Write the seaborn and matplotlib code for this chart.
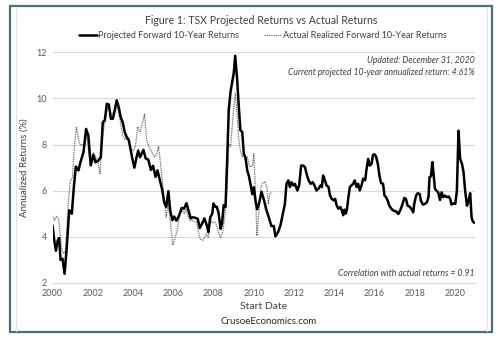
import matplotlib
matplotlib.use("Agg")
import matplotlib.pyplot as plt
from matplotlib.patches import Rectangle
from matplotlib.lines import Line2D
import seaborn as sns
import pandas as pd

# ---------------- data (decimal year, annualized return %) ----------------
proj_dates = [
    2000.00, 2000.08, 2000.17, 2000.26, 2000.33, 2000.40, 2000.50, 2000.60, 2000.71, 2000.83,
    2000.96, 2001.06, 2001.16, 2001.29, 2001.39, 2001.54, 2001.67, 2001.78, 2001.90, 2002.03,
    2002.14, 2002.27, 2002.40, 2002.50, 2002.60, 2002.70, 2002.80, 2002.90, 2003.00, 2003.09,
    2003.19, 2003.29, 2003.39, 2003.49, 2003.59, 2003.69, 2003.79, 2003.89, 2003.99, 2004.07,
    2004.19, 2004.26, 2004.35, 2004.52, 2004.63, 2004.76, 2004.89, 2005.00, 2005.12, 2005.22,
    2005.34, 2005.45, 2005.55, 2005.65, 2005.76, 2005.85, 2005.96, 2006.05, 2006.16, 2006.28,
    2006.42, 2006.53, 2006.66, 2006.77, 2006.87, 2006.98, 2007.11, 2007.22, 2007.32, 2007.46,
    2007.55, 2007.67, 2007.75, 2007.84, 2007.94, 2008.00, 2008.10, 2008.17, 2008.25, 2008.36,
    2008.43, 2008.51, 2008.60, 2008.68, 2008.76, 2008.85, 2008.93, 2009.01, 2009.08, 2009.18,
    2009.26, 2009.34, 2009.43, 2009.51, 2009.59, 2009.68, 2009.76, 2009.84, 2009.93, 2010.01,
    2010.09, 2010.17, 2010.26, 2010.39, 2010.51, 2010.62, 2010.75, 2010.88, 2011.00, 2011.08,
    2011.21, 2011.33, 2011.45, 2011.55, 2011.63, 2011.72, 2011.80, 2011.88, 2011.97, 2012.05,
    2012.17, 2012.26, 2012.36, 2012.46, 2012.55, 2012.63, 2012.73, 2012.83, 2012.93, 2013.02,
    2013.12, 2013.22, 2013.32, 2013.39, 2013.45, 2013.54, 2013.62, 2013.72, 2013.79, 2013.88,
    2013.98, 2014.05, 2014.12, 2014.21, 2014.31, 2014.38, 2014.45, 2014.51, 2014.58, 2014.64,
    2014.71, 2014.78, 2014.86, 2014.94, 2015.02, 2015.11, 2015.19, 2015.27, 2015.36, 2015.44,
    2015.54, 2015.60, 2015.69, 2015.77, 2015.86, 2015.93, 2016.00, 2016.08, 2016.17, 2016.25,
    2016.33, 2016.43, 2016.50, 2016.58, 2016.66, 2016.74, 2016.86, 2016.96, 2017.07, 2017.19,
    2017.29, 2017.40, 2017.49, 2017.57, 2017.65, 2017.75, 2017.85, 2017.93, 2017.98, 2018.07,
    2018.15, 2018.25, 2018.31, 2018.41, 2018.51, 2018.61, 2018.69, 2018.74, 2018.81, 2018.88,
    2018.94, 2019.01, 2019.09, 2019.17, 2019.26, 2019.34, 2019.42, 2019.50, 2019.60, 2019.69,
    2019.77, 2019.83, 2019.93, 2020.02, 2020.10, 2020.18, 2020.26, 2020.35, 2020.43, 2020.51,
    2020.60, 2020.68, 2020.76, 2020.83, 2020.89, 2020.96,
]
proj_values = [
    4.50, 3.90, 3.40, 3.85, 3.95, 3.00, 3.05, 2.40, 3.55, 5.15,
    5.00, 6.15, 7.05, 6.88, 7.24, 7.67, 8.68, 8.40, 7.10, 7.55,
    7.23, 7.30, 7.45, 8.97, 9.05, 9.77, 9.74, 9.12, 9.12, 9.48,
    9.92, 9.63, 9.19, 8.97, 8.54, 8.32, 8.20, 7.74, 7.30, 7.00,
    7.50, 7.74, 7.45, 7.77, 7.40, 7.35, 6.90, 7.08, 6.60, 6.88,
    6.44, 6.05, 5.50, 5.30, 5.98, 5.14, 4.72, 4.88, 4.70, 4.90,
    5.25, 5.22, 5.46, 5.12, 4.80, 4.85, 4.82, 4.78, 4.38, 4.62,
    4.80, 4.50, 4.20, 4.85, 5.00, 5.45, 5.30, 5.30, 5.05, 4.35,
    4.60, 5.38, 5.30, 7.30, 9.50, 10.30, 10.70, 11.10, 11.85, 10.80,
    9.64, 8.62, 8.55, 7.60, 7.45, 6.87, 6.65, 6.29, 5.85, 6.15,
    5.56, 5.20, 5.42, 5.95, 5.60, 5.20, 4.85, 4.47, 4.47, 4.02,
    4.20, 4.50, 5.00, 5.42, 6.30, 6.45, 6.16, 6.37, 6.23, 6.30,
    6.01, 6.23, 7.09, 7.09, 7.02, 6.73, 6.45, 6.30, 6.37, 6.23,
    6.01, 6.09, 6.23, 6.16, 6.66, 6.45, 6.23, 6.16, 5.80, 5.65,
    5.58, 5.65, 5.37, 5.22, 5.29, 5.15, 4.94, 5.18, 5.01, 5.22,
    5.73, 6.16, 6.23, 6.30, 6.45, 6.16, 6.30, 6.01, 6.23, 6.52,
    6.45, 6.88, 7.38, 7.09, 7.17, 7.55, 7.58, 7.49, 7.17, 6.66,
    6.33, 6.30, 5.79, 5.72, 5.57, 5.35, 5.20, 5.13, 5.11, 4.99,
    5.16, 5.43, 5.69, 5.64, 5.35, 5.31, 5.20, 5.06, 5.43, 5.79,
    5.89, 5.86, 5.57, 5.40, 5.43, 5.50, 5.72, 6.59, 6.62, 7.24,
    6.73, 6.08, 6.00, 5.93, 5.60, 5.93, 5.72, 5.79, 5.72, 5.75,
    5.64, 5.40, 5.45, 5.43, 6.00, 8.60, 7.39, 7.17, 6.81, 6.00,
    5.35, 5.57, 5.89, 4.84, 4.67, 4.61,
]

act_dates = [
    2000.00, 2000.10, 2000.20, 2000.30, 2000.38, 2000.46, 2000.55, 2000.63, 2000.69, 2000.79,
    2000.89, 2000.99, 2001.06, 2001.19, 2001.29, 2001.39, 2001.49, 2001.59, 2001.70, 2001.82,
    2001.92, 2002.03, 2002.12, 2002.25, 2002.36, 2002.45, 2002.53, 2002.66, 2002.78, 2002.94,
    2003.10, 2003.22, 2003.36, 2003.49, 2003.62, 2003.76, 2003.89, 2004.02, 2004.12, 2004.23,
    2004.35, 2004.47, 2004.57, 2004.68, 2004.80, 2004.93, 2005.07, 2005.18, 2005.27, 2005.37,
    2005.45, 2005.55, 2005.65, 2005.75, 2005.85, 2005.98, 2006.08, 2006.21, 2006.33, 2006.45,
    2006.55, 2006.65, 2006.75, 2006.85, 2007.00, 2007.16, 2007.33, 2007.49, 2007.64, 2007.74,
    2007.84, 2007.94, 2008.08, 2008.17, 2008.25, 2008.36, 2008.47, 2008.56, 2008.68, 2008.76,
    2008.85, 2008.93, 2009.01, 2009.09, 2009.18, 2009.26, 2009.34, 2009.43, 2009.51, 2009.59,
    2009.68, 2009.76, 2009.84, 2009.93, 2010.01, 2010.09, 2010.16, 2010.26, 2010.36, 2010.46,
    2010.56, 2010.66, 2010.73, 2010.80, 2010.87,
]
act_values = [
    4.93, 4.71, 4.89, 4.79, 4.14, 3.49, 3.27, 3.34, 3.99, 5.58,
    6.44, 6.56, 7.60, 8.78, 8.20, 7.96, 8.00, 7.89, 8.50, 7.50,
    7.09, 7.67, 7.50, 7.31, 6.73, 7.89, 8.60, 9.34, 9.63, 9.27,
    9.48, 9.63, 9.05, 8.39, 8.20, 8.30, 7.80, 7.74, 7.90, 8.77,
    8.55, 8.91, 9.32, 8.20, 7.90, 7.68, 7.46, 7.60, 7.92, 7.17,
    6.50, 5.72, 4.85, 5.43, 4.70, 3.64, 3.90, 4.34, 5.00, 5.14,
    5.00, 5.21, 4.85, 4.70, 4.70, 4.63, 3.90, 3.86, 4.12, 3.98,
    4.70, 4.60, 4.64, 4.49, 4.20, 3.95, 4.27, 4.84, 6.15, 8.04,
    7.92, 8.76, 9.64, 10.22, 9.27, 8.18, 7.75, 7.45, 7.60, 7.31,
    7.45, 7.16, 7.02, 7.09, 7.60, 5.85, 4.04, 5.13, 6.15, 6.36,
    6.40, 6.15, 5.42, 5.85, 5.93,
]

x_ticks = [2000, 2002, 2004, 2006, 2008, 2010, 2012, 2014, 2016, 2018, 2020]
y_ticks = [2, 4, 6, 8, 10, 12]

title = "Figure 1: TSX Projected Returns vs Actual Returns"
proj_label = "Projected Forward 10-Year Returns"
act_label = "Actual Realized Forward 10-Year Returns"
note_updated = "Updated: December 31, 2020"
note_current = "Current projected 10-year annualized return: 4.61%"
note_corr = "Correlation with actual returns = 0.91"

# ---------------- plot ----------------
sns.set_theme(style="white")
plt.rcParams['font.family'] = ['Lato', 'DejaVu Sans']

W, H = 500, 339
fig = plt.figure(figsize=(W / 100, H / 100), dpi=100)
ax = fig.add_axes([52.5 / W, 1 - 283 / H, (475 - 52.5) / W, (283 - 52.3) / H])

proj_df = pd.DataFrame({"date": proj_dates, "ret": proj_values})
act_df = pd.DataFrame({"date": act_dates, "ret": act_values})

sns.lineplot(data=act_df, x="date", y="ret", ax=ax, color="#6e6e6e",
             linewidth=0.9, linestyle=(0, (1, 0.8)), zorder=3)
sns.lineplot(data=proj_df, x="date", y="ret", ax=ax, color="black",
             linewidth=1.8, zorder=4)

ax.set_xlim(2000, 2021)
ax.set_ylim(2, 12)
ax.set_xticks(x_ticks)
ax.set_yticks(y_ticks)
ax.set_xticklabels([str(t) for t in x_ticks])
ax.set_yticklabels([str(t) for t in y_ticks])
ax.tick_params(axis="both", labelsize=6.5, colors="#595959", length=0, pad=4)
ax.grid(axis="y", color="#d9d9d9", linewidth=0.8)
ax.grid(axis="x", visible=False)
for s in ["top", "right", "left"]:
    ax.spines[s].set_visible(False)
ax.spines["bottom"].set_color("#d9d9d9")
ax.spines["bottom"].set_linewidth(0.8)

ax.set_xlabel("Start Date", fontsize=7.5, color="#404040", labelpad=3)
ax.set_ylabel("Annualized Returns (%)", fontsize=7, color="#404040", labelpad=6)

fig.text(261 / W, 1 - 20.7 / H, title, ha="center", va="center",
         fontsize=7.6, color="#404040")

handles = [Line2D([], [], color="black", linewidth=1.8),
           Line2D([], [], color="#6e6e6e", linewidth=0.9, linestyle=(0, (1, 0.8)))]
fig.legend(handles, [proj_label, act_label], loc="center",
           bbox_to_anchor=(263 / W, 1 - 36 / H), ncol=2, frameon=False,
           fontsize=6.5, handlelength=2.0, handletextpad=0.1, columnspacing=2.8,
           labelcolor="#404040")

ax.text(1.0, 1 - (60.7 - 52.3) / (283 - 52.3), note_updated, transform=ax.transAxes,
        ha="right", va="center", fontsize=6.2, style="italic", color="#404040")
ax.text(1.0, 1 - (72.3 - 52.3) / (283 - 52.3), note_current, transform=ax.transAxes,
        ha="right", va="center", fontsize=6.2, style="italic", color="#404040")
ax.text(1.0, 1 - (274 - 52.3) / (283 - 52.3), note_corr, transform=ax.transAxes,
        ha="right", va="center", fontsize=6.2, style="italic", color="#404040")

fig.text(269 / W, 1 - 322 / H, "CrusoeEconomics.com", ha="center", va="center",
         fontsize=7, color="#262626")

# frame
fig.patches.append(Rectangle((10 / W, 1 - 332 / H), (492 - 10) / W, (332 - 5.5) / H,
                             transform=fig.transFigure, fill=False,
                             edgecolor="#4f6f78", linewidth=1.6))
fig.add_artist(Line2D([16 / W, 16 / W], [1 - 331 / H, 1 - 6.5 / H],
                      transform=fig.transFigure, color="#e4e4e4", linewidth=0.8))
fig.add_artist(Line2D([487 / W, 487 / W], [1 - 331 / H, 1 - 6.5 / H],
                      transform=fig.transFigure, color="#e4e4e4", linewidth=0.8))

fig.savefig("out.png", dpi=100)
